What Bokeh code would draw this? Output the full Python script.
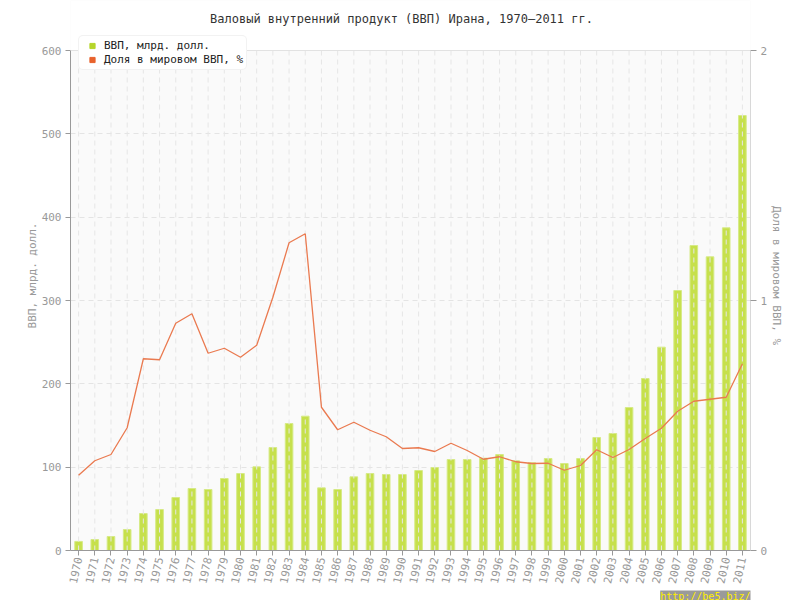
from bokeh.plotting import figure
from bokeh.models import (FactorRange, Range1d, LinearAxis, FixedTicker, Legend,
                          LegendItem, Label, ColumnDataSource, Title,
                          BoxAnnotation, Span)
from bokeh.embed import file_html
from bokeh.resources import INLINE

years = [str(y) for y in range(1970, 2012)]
gdp = [10.9, 13.2, 16.8, 25.2, 44.4, 49.2, 63.6, 74.4, 73.2, 86.4,
       92.4, 100.4, 123.6, 152.4, 161.2, 75.2, 73.2, 88.4, 92.4, 91.2,
       91.2, 96.0, 99.6, 109.2, 109.2, 110.8, 115.2, 107.6, 105.2, 110.4,
       104.4, 110.4, 135.6, 140.4, 171.6, 206.4, 244.0, 312.0, 366.0, 352.4,
       387.2, 522.0]
share = [0.301, 0.359, 0.384, 0.491, 0.767, 0.763, 0.909, 0.947, 0.789, 0.809,
         0.773, 0.821, 1.013, 1.231, 1.267, 0.573, 0.483, 0.513, 0.481, 0.455,
         0.408, 0.411, 0.396, 0.429, 0.400, 0.365, 0.375, 0.355, 0.348, 0.349,
         0.321, 0.340, 0.403, 0.372, 0.404, 0.448, 0.489, 0.557, 0.597, 0.605,
         0.613, 0.747]
left_ticks = [0, 100, 200, 300, 400, 500, 600]
right_ticks = [0, 1, 2]

title_text = "Валовый внутренний продукт (ВВП) Ирана, 1970–2011 гг."
gdp_label = "ВВП, млрд. долл."
share_label = "Доля в мировом ВВП, %"
watermark = "http://be5.biz/"

FONT = "DejaVu Sans Mono"
GRAY = "#999999"

# the frame is extended upward (to the top of the picture) so that the
# title and legend can sit above the plotting area without being clipped
L_MAX = left_ticks[-1]
R_MAX = right_ticks[-1]
EXT = 550.0 / 500.0

src = ColumnDataSource(dict(year=years, gdp=gdp, share=share,
                            g0=[left_ticks[0]] * len(years),
                            g1=[L_MAX] * len(years)))

p = figure(x_range=FactorRange(*years), y_range=Range1d(0, L_MAX * EXT),
           frame_width=680, frame_height=550,
           min_border_left=70, min_border_right=42, min_border_top=0,
           min_border_bottom=0,
           output_backend="svg", toolbar_location=None)
p.extra_y_ranges = {"share": Range1d(0, R_MAX * EXT)}

p.background_fill_color = "#fafafa"
p.border_fill_color = "white"
p.outline_line_color = None
p.add_layout(BoxAnnotation(bottom=L_MAX, fill_color="white", fill_alpha=1.0,
                           line_color=None, level="underlay"))
p.add_layout(Span(location=L_MAX, dimension="width", line_color="#e2e2e2",
                  line_width=1))

bars = p.vbar(x="year", top="gdp", width=0.47, source=src,
              fill_color="#c6e04c", line_color="#d6ea86", line_width=1)
# vertical dashed grid lines (drawn over the bars, as in the original)
p.segment(x0="year", y0="g0", x1="year", y1="g1", source=src,
          line_color="#e6e6e6", line_dash="5 4", line_width=1)
line = p.line(x="year", y="share", source=src, y_range_name="share",
              line_color="#ea7a50", line_width=1.3)

# axes
p.yaxis.ticker = FixedTicker(ticks=left_ticks)
p.yaxis.axis_label = gdp_label
p.yaxis.bounds = (0, L_MAX)
for ax in [p.xaxis[0], p.yaxis[0]]:
    ax.axis_line_color = "#999999"
    ax.major_tick_line_color = "#999999"
    ax.minor_tick_line_color = None
    ax.major_tick_in = 0
    ax.major_tick_out = 5
    ax.major_label_text_font = FONT
    ax.major_label_text_font_size = "11px"
    ax.major_label_text_color = GRAY
    ax.axis_label_text_font = FONT
    ax.axis_label_text_font_size = "11px"
    ax.axis_label_text_color = GRAY
    ax.axis_label_text_font_style = "normal"
p.xaxis.major_label_orientation = 1.35
p.xaxis.major_label_standoff = 2
p.yaxis.major_label_standoff = 4
p.yaxis.axis_label_standoff = 0

rax = LinearAxis(y_range_name="share", ticker=FixedTicker(ticks=right_ticks),
                 axis_label=share_label, bounds=(0, R_MAX))
rax.axis_line_color = "#d8d8d8"
rax.major_tick_line_color = "#999999"
rax.minor_tick_line_color = None
rax.major_tick_in = 0
rax.major_tick_out = 6
rax.major_label_text_font = FONT
rax.major_label_text_font_size = "11px"
rax.major_label_text_color = GRAY
rax.major_label_standoff = 4
rax.axis_label_text_font = FONT
rax.axis_label_text_font_size = "11px"
rax.axis_label_text_color = GRAY
rax.axis_label_text_font_style = "normal"
rax.axis_label_standoff = 0
p.add_layout(rax, "right")

# grids
p.xgrid.visible = False
p.ygrid.grid_line_color = "#e4e4e4"
p.ygrid.grid_line_dash = "5 4"

# title inside the (extended) frame
p.add_layout(Label(x=331, y=532, x_units="screen", y_units="screen",
                   text=title_text, text_font=FONT, text_font_size="12px",
                   text_color="#333333", text_align="center",
                   text_baseline="middle"))

# legend with square markers (dummy points placed below the visible range)
lg_gdp = p.scatter(x=[years[0]], y=[-1000], marker="square", size=5,
                   fill_color="#b5d52a", line_color="#b5d52a")
lg_share = p.scatter(x=[years[0]], y=[-1000], marker="square", size=5,
                     fill_color="#e8622c", line_color="#e8622c")
legend = Legend(items=[LegendItem(label=gdp_label, renderers=[lg_gdp]),
                       LegendItem(label=share_label, renderers=[lg_share])],
                location=(8, 480), orientation="vertical",
                label_text_font=FONT, label_text_font_size="11px",
                label_text_color="#222222", glyph_width=20, glyph_height=13,
                label_height=13, spacing=1, padding=3, margin=0,
                label_standoff=2,
                background_fill_color="white", background_fill_alpha=1.0,
                border_line_color="#e6e6e6", border_radius=5)
p.add_layout(legend, "center")

# site watermark, bottom right
p.add_layout(Title(text=watermark, align="right", text_font=FONT,
                   text_font_size="10px", text_font_style="normal",
                   text_color="#ffee00", background_fill_color="#9a9a9a",
                   standoff=0), "below")

open("out.html", "w").write(file_html(p, INLINE))
